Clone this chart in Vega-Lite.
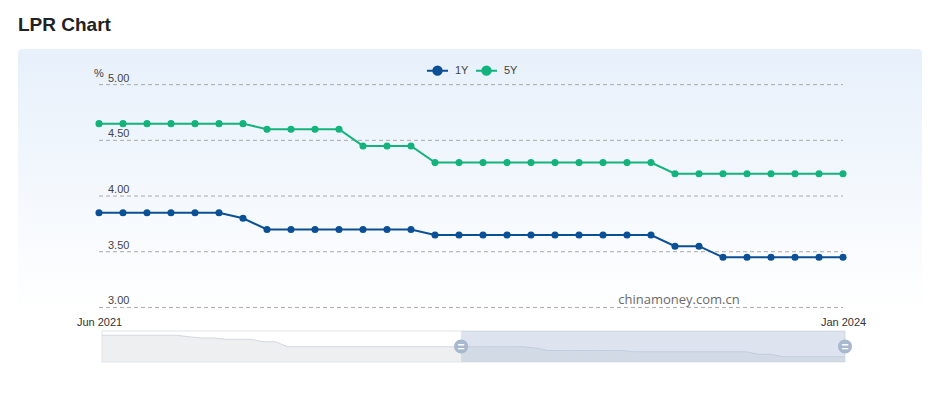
{
  "$schema": "https://vega.github.io/schema/vega-lite/v6.json",
  "padding": {"left": 18, "top": 16, "right": 0, "bottom": 0},
  "background": "white",
  "title": {"text": "LPR Chart", "anchor": "start", "fontSize": 19, "fontWeight": "bold", "font": "Liberation Sans", "color": "#222222", "offset": 14},
  "config": {"view": {"stroke": null}, "font": "Liberation Sans"},
  "spacing": 3,
  "vconcat": [
    {
      "width": 904,
      "height": 264,
      "view": {"stroke": null, "cornerRadius": 4, "fill": {"gradient": "linear", "x1": 0, "y1": 0, "x2": 0, "y2": 1, "stops": [{"offset": 0, "color": "#e7f0fb"}, {"offset": 1, "color": "#ffffff"}]}},
      "encoding": {
        "x": {
          "field": "month", "type": "ordinal",
          "scale": {"type": "point", "range": [81, 825], "padding": 0,
            "domain": ["2021-06","2021-07","2021-08","2021-09","2021-10","2021-11","2021-12","2022-01","2022-02","2022-03","2022-04","2022-05","2022-06","2022-07","2022-08","2022-09","2022-10","2022-11","2022-12","2023-01","2023-02","2023-03","2023-04","2023-05","2023-06","2023-07","2023-08","2023-09","2023-10","2023-11","2023-12","2024-01"]},
          "axis": {"values": ["2021-06", "2024-01"], "labelExpr": "datum.value == '2021-06' ? 'Jun 2021' : 'Jan 2024'", "title": null, "domain": false, "ticks": false, "grid": false, "labelPadding": 3, "labelFontSize": 11, "labelColor": "#333333", "labelAngle": 0, "labelOverlap": false, "labelBound": false}
        },
        "y": {"field": "v", "type": "quantitative", "scale": {"domain": [2.95, 5.32], "zero": false, "nice": false}, "axis": null}
      },
      "layer": [
        {
          "data": {"values": [
            {"month": "2021-06", "month2": "2024-01", "v": 3.0},
            {"month": "2021-06", "month2": "2024-01", "v": 3.5},
            {"month": "2021-06", "month2": "2024-01", "v": 4.0},
            {"month": "2021-06", "month2": "2024-01", "v": 4.5},
            {"month": "2021-06", "month2": "2024-01", "v": 5.0}
          ]},
          "layer": [
            {"mark": {"type": "rule", "color": "#aaaaaa", "strokeWidth": 1, "strokeDash": [4, 3]}, "encoding": {"x2": {"field": "month2"}}},
            {"mark": {"type": "text", "align": "left", "baseline": "alphabetic", "dx": 9, "dy": -3, "fontSize": 11, "color": "#444444"}, "encoding": {"text": {"field": "v", "type": "quantitative", "format": ".2f"}}}
          ]
        },
        {
          "data": {"values": [{"month": "2021-06", "v": 5.0, "t": "%"}]},
          "mark": {"type": "text", "align": "center", "baseline": "alphabetic", "dx": 0, "dy": -8, "fontSize": 11, "color": "#444444"},
          "encoding": {"text": {"field": "t"}}
        },
        {
          "data": {"values": [{"month": "2023-06", "v": 3.0, "t": "chinamoney.com.cn"}]},
          "mark": {"type": "text", "align": "center", "baseline": "alphabetic", "dx": 4, "dy": -3, "fontSize": 13, "font": "Open Sans", "color": "#6a6a6a"},
          "encoding": {"text": {"field": "t"}}
        },
        {
          "data": {"values": [
            {"month":"2021-06","series":"1Y","v":3.85},{"month":"2021-07","series":"1Y","v":3.85},{"month":"2021-08","series":"1Y","v":3.85},{"month":"2021-09","series":"1Y","v":3.85},{"month":"2021-10","series":"1Y","v":3.85},{"month":"2021-11","series":"1Y","v":3.85},{"month":"2021-12","series":"1Y","v":3.80},
            {"month":"2022-01","series":"1Y","v":3.70},{"month":"2022-02","series":"1Y","v":3.70},{"month":"2022-03","series":"1Y","v":3.70},{"month":"2022-04","series":"1Y","v":3.70},{"month":"2022-05","series":"1Y","v":3.70},{"month":"2022-06","series":"1Y","v":3.70},{"month":"2022-07","series":"1Y","v":3.70},{"month":"2022-08","series":"1Y","v":3.65},{"month":"2022-09","series":"1Y","v":3.65},{"month":"2022-10","series":"1Y","v":3.65},{"month":"2022-11","series":"1Y","v":3.65},{"month":"2022-12","series":"1Y","v":3.65},
            {"month":"2023-01","series":"1Y","v":3.65},{"month":"2023-02","series":"1Y","v":3.65},{"month":"2023-03","series":"1Y","v":3.65},{"month":"2023-04","series":"1Y","v":3.65},{"month":"2023-05","series":"1Y","v":3.65},{"month":"2023-06","series":"1Y","v":3.55},{"month":"2023-07","series":"1Y","v":3.55},{"month":"2023-08","series":"1Y","v":3.45},{"month":"2023-09","series":"1Y","v":3.45},{"month":"2023-10","series":"1Y","v":3.45},{"month":"2023-11","series":"1Y","v":3.45},{"month":"2023-12","series":"1Y","v":3.45},{"month":"2024-01","series":"1Y","v":3.45},
            {"month":"2021-06","series":"5Y","v":4.65},{"month":"2021-07","series":"5Y","v":4.65},{"month":"2021-08","series":"5Y","v":4.65},{"month":"2021-09","series":"5Y","v":4.65},{"month":"2021-10","series":"5Y","v":4.65},{"month":"2021-11","series":"5Y","v":4.65},{"month":"2021-12","series":"5Y","v":4.65},
            {"month":"2022-01","series":"5Y","v":4.60},{"month":"2022-02","series":"5Y","v":4.60},{"month":"2022-03","series":"5Y","v":4.60},{"month":"2022-04","series":"5Y","v":4.60},{"month":"2022-05","series":"5Y","v":4.45},{"month":"2022-06","series":"5Y","v":4.45},{"month":"2022-07","series":"5Y","v":4.45},{"month":"2022-08","series":"5Y","v":4.30},{"month":"2022-09","series":"5Y","v":4.30},{"month":"2022-10","series":"5Y","v":4.30},{"month":"2022-11","series":"5Y","v":4.30},{"month":"2022-12","series":"5Y","v":4.30},
            {"month":"2023-01","series":"5Y","v":4.30},{"month":"2023-02","series":"5Y","v":4.30},{"month":"2023-03","series":"5Y","v":4.30},{"month":"2023-04","series":"5Y","v":4.30},{"month":"2023-05","series":"5Y","v":4.30},{"month":"2023-06","series":"5Y","v":4.20},{"month":"2023-07","series":"5Y","v":4.20},{"month":"2023-08","series":"5Y","v":4.20},{"month":"2023-09","series":"5Y","v":4.20},{"month":"2023-10","series":"5Y","v":4.20},{"month":"2023-11","series":"5Y","v":4.20},{"month":"2023-12","series":"5Y","v":4.20},{"month":"2024-01","series":"5Y","v":4.20}
          ]},
          "mark": {"type": "line", "strokeWidth": 2, "point": {"filled": true, "size": 50, "opacity": 1}},
          "encoding": {
            "color": {
              "field": "series", "type": "nominal",
              "scale": {"domain": ["1Y", "5Y"], "range": ["#0b4f94", "#13b37b"]},
              "legend": {
                "orient": "none", "legendX": 408, "legendY": 10, "direction": "horizontal", "title": null,
                "symbolType": "M-1,0L1,0M0.4,0A0.4,0.4,0,1,1,-0.4,0A0.4,0.4,0,1,1,0.4,0",
                "symbolSize": 441, "symbolStrokeWidth": 2, "labelFontSize": 11, "labelColor": "#444444",
                "columnPadding": 3, "labelOffset": 6, "padding": 0,
                "encode": {"symbols": {"update": {"fill": {"scale": "color", "field": "value"}, "stroke": {"scale": "color", "field": "value"}, "fillOpacity": {"value": 1}, "opacity": {"value": 1}}}}
              }
            }
          }
        }
      ]
    },
    {
      "width": 904,
      "height": 31,
      "view": {"stroke": null, "fill": null},
      "encoding": {
        "x": {
          "field": "m", "type": "ordinal",
          "scale": {"type": "point", "range": [84, 827], "padding": 0,
            "domain": ["2019-01","2019-02","2019-03","2019-04","2019-05","2019-06","2019-07","2019-08","2019-09","2019-10","2019-11","2019-12","2020-01","2020-02","2020-03","2020-04","2020-05","2020-06","2020-07","2020-08","2020-09","2020-10","2020-11","2020-12","2021-01","2021-02","2021-03","2021-04","2021-05","2021-06","2021-07","2021-08","2021-09","2021-10","2021-11","2021-12","2022-01","2022-02","2022-03","2022-04","2022-05","2022-06","2022-07","2022-08","2022-09","2022-10","2022-11","2022-12","2023-01","2023-02","2023-03","2023-04","2023-05","2023-06","2023-07","2023-08","2023-09","2023-10","2023-11","2023-12","2024-01"]},
          "axis": null
        }
      },
      "layer": [
        {
          "data": {"values": [{"m": "2019-01", "m2": "2024-01"}]},
          "mark": {"type": "rect", "fill": "#ffffff", "stroke": "#dfe3e8", "strokeWidth": 1},
          "encoding": {"x2": {"field": "m2"}}
        },
        {
          "data": {"values": [
            {"m":"2019-01","v":4.31},{"m":"2019-02","v":4.31},{"m":"2019-03","v":4.31},{"m":"2019-04","v":4.31},{"m":"2019-05","v":4.31},{"m":"2019-06","v":4.31},{"m":"2019-07","v":4.31},{"m":"2019-08","v":4.25},{"m":"2019-09","v":4.20},{"m":"2019-10","v":4.20},{"m":"2019-11","v":4.15},{"m":"2019-12","v":4.15},
            {"m":"2020-01","v":4.15},{"m":"2020-02","v":4.05},{"m":"2020-03","v":4.05},{"m":"2020-04","v":3.85},{"m":"2020-05","v":3.85},{"m":"2020-06","v":3.85},{"m":"2020-07","v":3.85},{"m":"2020-08","v":3.85},{"m":"2020-09","v":3.85},{"m":"2020-10","v":3.85},{"m":"2020-11","v":3.85},{"m":"2020-12","v":3.85},
            {"m":"2021-01","v":3.85},{"m":"2021-02","v":3.85},{"m":"2021-03","v":3.85},{"m":"2021-04","v":3.85},{"m":"2021-05","v":3.85},{"m":"2021-06","v":3.85},{"m":"2021-07","v":3.85},{"m":"2021-08","v":3.85},{"m":"2021-09","v":3.85},{"m":"2021-10","v":3.85},{"m":"2021-11","v":3.85},{"m":"2021-12","v":3.80},
            {"m":"2022-01","v":3.70},{"m":"2022-02","v":3.70},{"m":"2022-03","v":3.70},{"m":"2022-04","v":3.70},{"m":"2022-05","v":3.70},{"m":"2022-06","v":3.70},{"m":"2022-07","v":3.70},{"m":"2022-08","v":3.65},{"m":"2022-09","v":3.65},{"m":"2022-10","v":3.65},{"m":"2022-11","v":3.65},{"m":"2022-12","v":3.65},
            {"m":"2023-01","v":3.65},{"m":"2023-02","v":3.65},{"m":"2023-03","v":3.65},{"m":"2023-04","v":3.65},{"m":"2023-05","v":3.65},{"m":"2023-06","v":3.55},{"m":"2023-07","v":3.55},{"m":"2023-08","v":3.45},{"m":"2023-09","v":3.45},{"m":"2023-10","v":3.45},{"m":"2023-11","v":3.45},{"m":"2023-12","v":3.45},{"m":"2024-01","v":3.45}
          ]},
          "mark": {"type": "area", "fill": "#e6e8eb", "line": {"stroke": "#d3d8df", "strokeWidth": 1}},
          "encoding": {
            "y": {"field": "v", "type": "quantitative", "scale": {"domain": [3.24, 4.48], "zero": false, "nice": false}, "axis": null},
            "y2": {"datum": 3.24}
          }
        },
        {
          "data": {"values": [{"m": "2021-06", "m2": "2024-01"}]},
          "mark": {"type": "rect", "fill": "#a9bbd6", "opacity": 0.4},
          "encoding": {"x2": {"field": "m2"}}
        },
        {
          "data": {"values": [{"m": "2021-06"}, {"m": "2024-01"}]},
          "mark": {"type": "point", "filled": true, "size": 200, "color": "#a8b8ce", "opacity": 1},
          "encoding": {}
        },
        {
          "data": {"values": [{"m": "2021-06", "t": "="}, {"m": "2024-01", "t": "="}]},
          "mark": {"type": "text", "fontSize": 12, "fontWeight": "bold", "color": "#ffffff", "baseline": "middle", "align": "center"},
          "encoding": {"text": {"field": "t"}}
        }
      ]
    }
  ]
}
